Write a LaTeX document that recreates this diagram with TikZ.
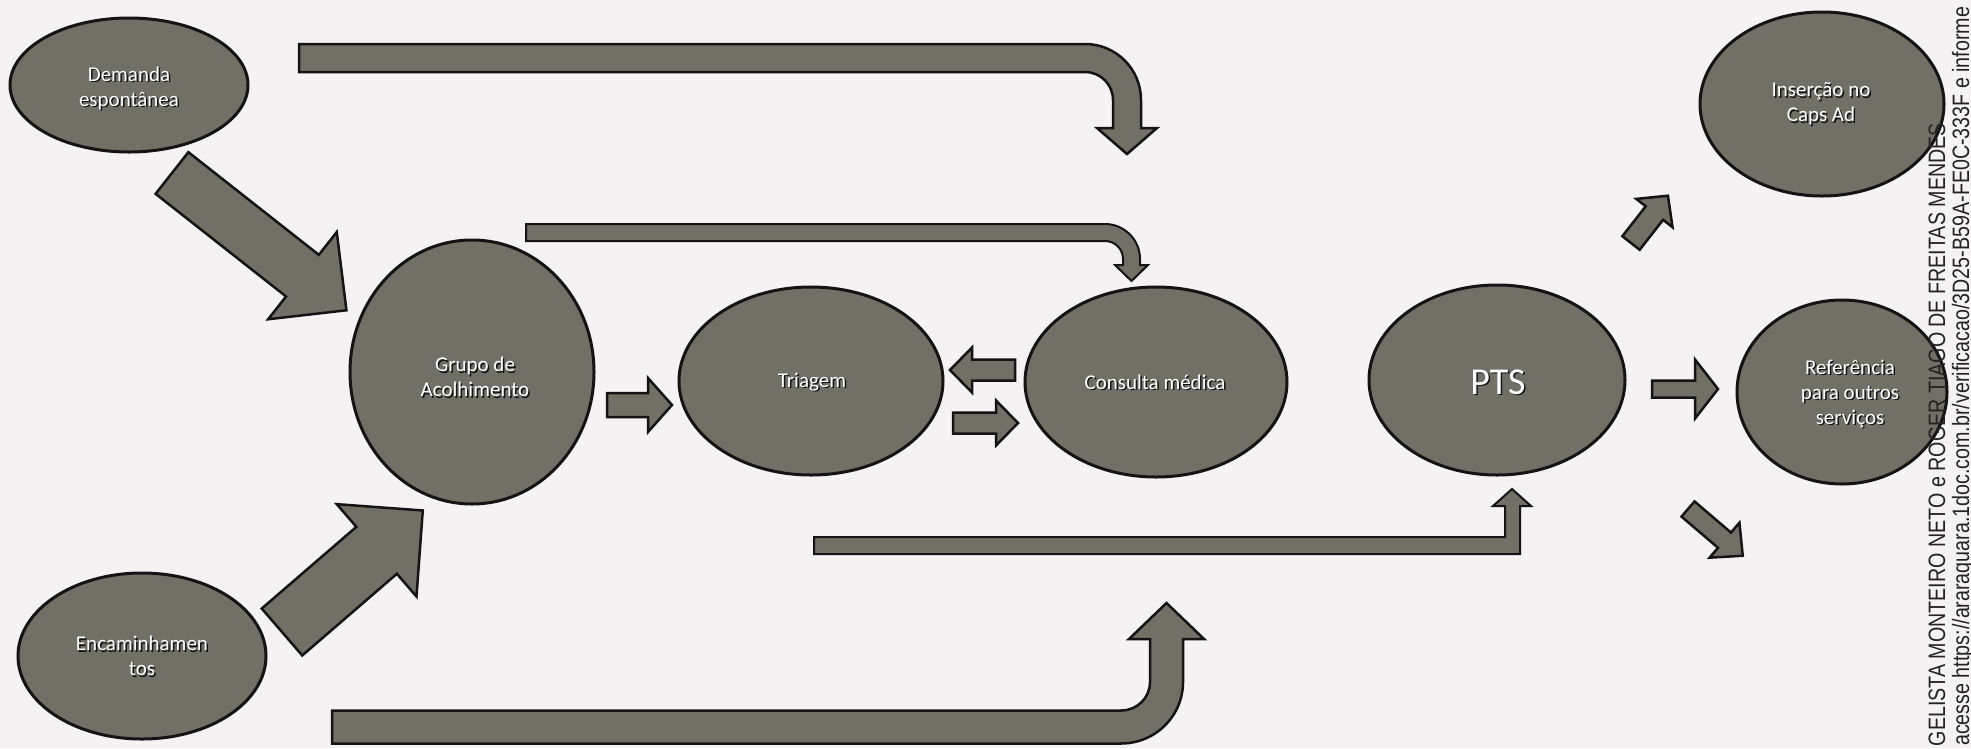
\documentclass[tikz,border=0pt]{standalone}
\usepackage{fontspec}
\setmainfont{Carlito}
\newfontfamily\wmfont{Liberation Sans}
\usetikzlibrary{shapes.geometric}
\definecolor{paper}{RGB}{244,242,242}
\definecolor{shade}{RGB}{112,112,102}
\definecolor{ink}{RGB}{20,20,20}
\definecolor{wmink}{RGB}{35,35,35}
\tikzset{
  bubble/.style={ellipse, draw=ink, line width=3pt, fill=shade, inner sep=0pt},
  bubbletext/.style={text=white, align=center, inner sep=0pt},
  bubbleshadow/.style={bubbletext, text=ink},
  blockarrow/.style={draw=ink, line width=2.5pt, fill=shade, line join=miter},
  thinarrow/.style={blockarrow, line width=2pt},
  wmtext/.style={font=\wmfont\fontsize{23.7}{26}\selectfont, text=wmink, inner sep=0pt},
}
% name, x, y, rx, ry, text x, text y, font size, text
\newcommand\bubblenode[9]{%
  \node[bubble, minimum width={2*#4pt}, minimum height={2*#5pt}] (#1) at (#2,#3) {};
  \node[bubbleshadow, font=\fontsize{#8}{25}\selectfont] at ({#6+1.5},{#7+1.5}) {#9};
  \node[bubbletext, font=\fontsize{#8}{25}\selectfont] (#1-text) at (#6,#7) {#9};
}
% tail x, tail y, angle, length, shaft width, head width, head length
\newcommand\barrow[7]{%
  \begin{scope}[shift={(#1,#2)}, rotate=#3]
    \draw[blockarrow] (0,{-#5/2}) -- ({#4-#7},{-#5/2}) -- ({#4-#7},{-#6/2}) -- (#4,0)
      -- ({#4-#7},{#6/2}) -- ({#4-#7},{#5/2}) -- (0,{#5/2}) -- cycle;
  \end{scope}}
\begin{document}
\begin{tikzpicture}[x=1pt,y=-1pt]
\useasboundingbox (0,0) rectangle (1971,748);
\clip (0,0) rectangle (1971,748);
\fill[paper] (0,0) rectangle (1971,748);

% bubbles
\bubblenode{dem}{129}{85}{119}{67}{129}{88}{21}{Demanda\\espontânea}
\bubblenode{enc}{142}{656}{124}{83}{142}{656}{21}{Encaminhamen\\tos}
\bubblenode{grp}{472}{372}{122}{132}{475}{377}{21}{Grupo de\\Acolhimento}
\bubblenode{tri}{811}{381}{132}{94}{812}{382}{21}{Triagem}
\bubblenode{con}{1156}{382}{131}{95}{1155}{382}{21}{Consulta médica}
\bubblenode{pts}{1497}{380}{128}{95}{1498}{382}{38}{PTS}
\bubblenode{ins}{1822}{104}{122}{92}{1821}{104}{21}{Inserção no\\Caps Ad}
\bubblenode{ref}{1842}{392}{105}{92}{1850}{394}{21}{Referência\\para outros\\serviços}

% straight block arrows
\barrow{172}{173}{-38.2}{222}{53}{111}{56}
\barrow{282}{632}{40.8}{186}{62}{122}{61}
\barrow{607}{405}{0}{65}{24}{54}{24}
\barrow{1015}{370}{180}{65}{21}{45}{22}
\barrow{953}{423}{0}{65}{21}{45}{22}
\barrow{1652}{389}{0}{66}{17}{59}{23}
\barrow{1631}{243}{52}{60}{22}{46}{22}
\barrow{1688}{509}{-40.5}{72}{20}{46}{24}

% top U-turn arrow
\draw[blockarrow] (299,44) -- (1085,44) .. controls (1116,44) and (1141,69) .. (1141,100)
  -- (1141,128) -- (1157,128) -- (1127,154) -- (1097,128) -- (1113,128) -- (1113,100)
  .. controls (1113,84.5) and (1100.5,72) .. (1085,72) -- (299,72) -- cycle;
% thin U-turn arrow
\draw[thinarrow] (526,224) -- (1105,224) .. controls (1124.3,224) and (1140,239.7) .. (1140,259)
  -- (1140,265) -- (1148,265) -- (1131.5,281) -- (1115,265) -- (1123,265) -- (1123,259)
  .. controls (1123,249) and (1115,241) .. (1105,241) -- (526,241) -- cycle;
% bar to PTS
\draw[thinarrow] (814,537) -- (1505,537) -- (1505,506) -- (1493,506) -- (1512,489)
  -- (1531,506) -- (1520,506) -- (1520,554) -- (814,554) -- cycle;
% bottom U-turn arrow
\draw[blockarrow] (332,743.5) -- (1121,743.5) .. controls (1155.2,743.5) and (1183,716.2) .. (1183,682)
  -- (1183,639) -- (1204,639) -- (1166.5,603) -- (1129,639) -- (1150,639) -- (1150,682)
  .. controls (1150,698) and (1137,710.5) .. (1121,710.5) -- (332,710.5) -- cycle;

% watermark
\node[wmtext, rotate=90, anchor=east] (wm1) at (1937,123)
  {\scalebox{0.83}[1]{GELISTA MONTEIRO NETO e ROGER TIAGO DE FREITAS MENDES}};
\node[wmtext, rotate=90, anchor=west] (wm2) at (1963,746)
  {\scalebox{0.83}[1]{acesse https://araraquara.1doc.com.br/verificacao/3D25-B59A-FE0C-333F e informe}};
\end{tikzpicture}
\end{document}
